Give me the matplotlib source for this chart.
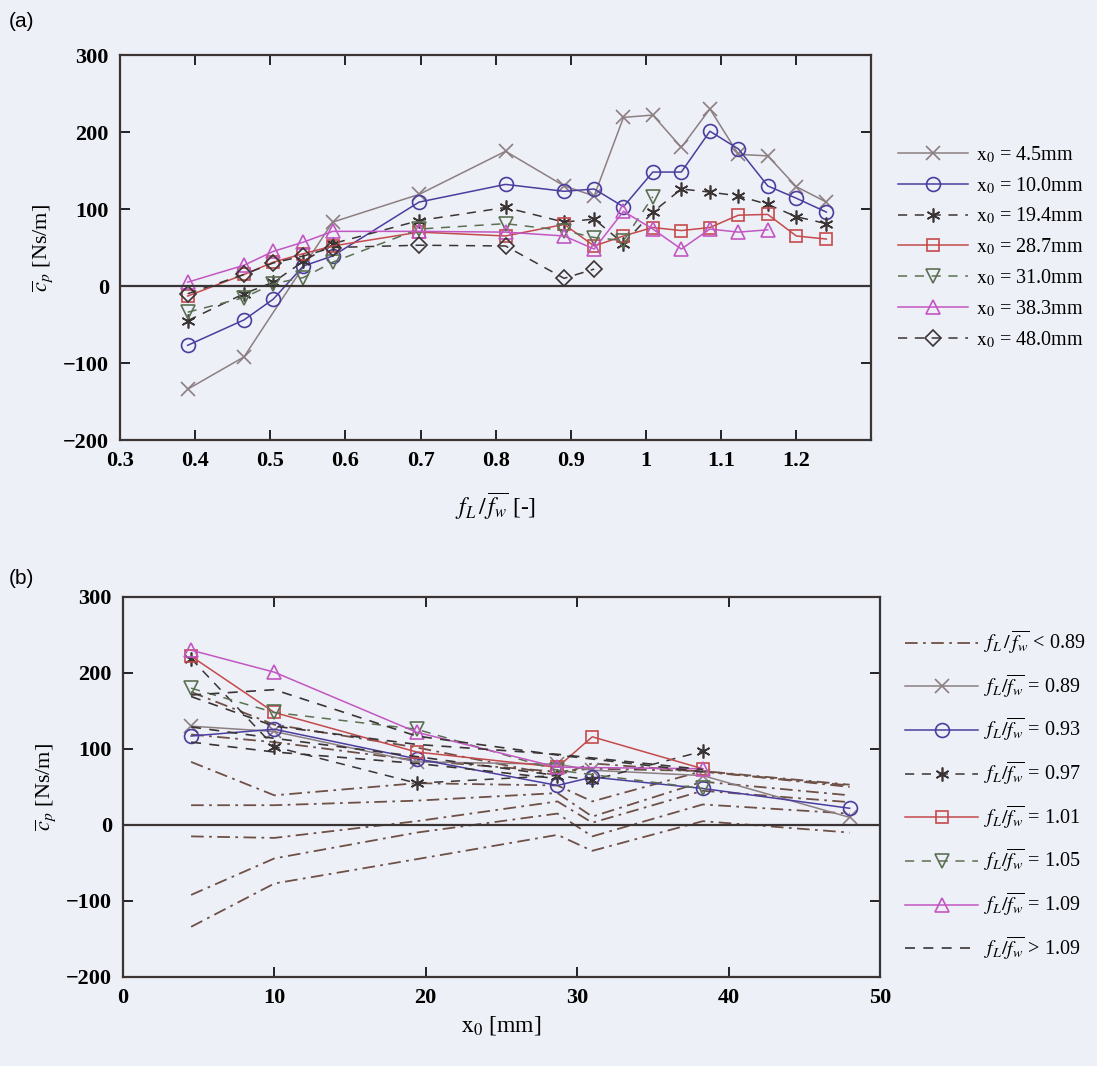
import matplotlib.pyplot as plt
import numpy as np

plt.rcParams['font.family'] = ['Liberation Serif', 'DejaVu Serif']
plt.rcParams['mathtext.fontset'] = 'stix'

# normalised frequency f_L / f_w (same grid for every amplitude)
freqs = [0.39, 0.465, 0.504, 0.544, 0.583, 0.698, 0.813, 0.891, 0.931,
         0.970, 1.009, 1.047, 1.085, 1.123, 1.162, 1.200, 1.240]

# lateral displacement amplitudes [mm]
x0_vals = [4.5, 10.0, 19.4, 28.7, 31.0, 38.3, 48.0]

N = np.nan
# c_p [Ns/m] per amplitude (a)
cp_45 = [-134, -92, N, N, 83, 119, 175, 130, 117, 219, 222, 180, 230, 171, 169, 129, 109]
cp_100 = [-77, -44, -17, 26, 39, 109, 132, 123, 126, 103, 148, 148, 201, 178, 130, 114, 96]
cp_194 = [-45, -10, 5, 32, 55, 85, 102, 83, 87, 55, 96, 126, 122, 117, 106, 90, 81]
cp_287 = [-13, 15, 31, 42, 52, 70, 65, 80, 52, 65, 76, 72, 76, 92, 93, 65, 61]
cp_310 = [-34, -15, 3, 11, 31, 74, 81, 72, 63, 59, 116, N, N, N, N, N, N]
cp_383 = [5, 27, 45, 57, 71, 71, 70, 65, 48, 97, 74, 48, 74, 70, 73, N, N]
cp_480 = [-10, 15, 30, 39, 50, 53, 52, 10, 22, N, N, N, N, N, N, N, N]

# in plot (b) the 0.504 and 0.544 curves start at 4.5mm as well
cp_45_b = [-134, -92, -15, 26, 83, 119, 175, 130, 117, 219, 222, 180, 230, 171, 169, 129, 109]

cp_rows = [cp_45, cp_100, cp_194, cp_287, cp_310, cp_383, cp_480]
cp_rows_b = [cp_45_b, cp_100, cp_194, cp_287, cp_310, cp_383, cp_480]

gray = '#8c7f82'
blue = '#4b3d9e'
dark = '#3a3434'
red = '#c44a4c'
green = '#5b7052'
magenta = '#c256c2'
brown = '#6e5046'

dash = (0, (6, 5))
dashdot = (0, (7, 3, 1.5, 3))
star = (6, 2, 0)

top_styles = [
    dict(color=gray, marker='x', ls='-'),
    dict(color=blue, marker='o', ls='-'),
    dict(color=dark, marker=star, ls=dash),
    dict(color=red, marker='s', ls='-', ms=8),
    dict(color=green, marker='v', ls=dash),
    dict(color=magenta, marker='^', ls='-'),
    dict(color=dark, marker='D', ls=dash, ms=8),
]

bg = '#eef0f7'
fig = plt.figure(figsize=(10.97, 10.66), dpi=100, facecolor=bg)
ax1 = fig.add_axes([0.1094, 0.5872, 0.685, 0.3612])
ax2 = fig.add_axes([0.1121, 0.0835, 0.690, 0.3565])

# ---- (a) c_p vs frequency ----
for x0, row, st in zip(x0_vals, cp_rows, top_styles):
    f = np.array(freqs)
    v = np.array(row, dtype=float)
    ok = ~np.isnan(v)
    ax1.plot(f[ok], v[ok], color=st['color'], ls=st['ls'], marker=st['marker'],
             ms=st.get('ms', 10), mfc='none', mew=1.2, lw=1.1,
             label='$\\mathrm{x_0}$ = %.1fmm' % x0)

ax1.axhline(0, color=dark, lw=1.6)
ax1.set_xlim(0.3, 1.3)
ax1.set_ylim(-200, 300)
ax1.set_xticks(np.arange(0.3, 1.31, 0.1))
ax1.set_xticklabels(['0.3', '0.4', '0.5', '0.6', '0.7', '0.8', '0.9', '1', '1.1', '1.2', ''])
ax1.set_xlabel('$f_L\\,/\\,\\overline{f_w}$ [-]', fontsize=17, labelpad=14)
ax1.set_ylabel('$\\overline{c}_p$ [Ns/m]', fontsize=16)

# ---- (b) c_p vs amplitude ----
cp_b = np.array(cp_rows_b, dtype=float)
x0 = np.array(x0_vals)
named = {0.891: ('x', gray, '-', '= 0.89'),
         0.931: ('o', blue, '-', '= 0.93'),
         0.970: (star, dark, dash, '= 0.97'),
         1.009: ('s', red, '-', '= 1.01'),
         1.047: ('v', green, dash, '= 1.05'),
         1.085: ('^', magenta, '-', '= 1.09')}

low_lab = '$f_L\\,/\\,\\overline{f_w}$ < 0.89'
high_lab = '$f_L/\\overline{f_w}$ > 1.09'
low_done = False
high_done = False
for j, fr in enumerate(freqs):
    v = cp_b[:, j]
    ok = ~np.isnan(v)
    if fr in named:
        mk, c, ls, lab = named[fr]
        ax2.plot(x0[ok], v[ok], color=c, ls=ls, marker=mk, ms=8 if mk == 's' else 10,
                 mfc='none', mew=1.2, lw=1.1,
                 label='$f_L/\\overline{f_w}$ ' + lab)
    elif fr < 0.89:
        ax2.plot(x0[ok], v[ok], color=brown, ls=dashdot, lw=1.3,
                 label=None if low_done else low_lab)
        low_done = True
    else:
        ax2.plot(x0[ok], v[ok], color=dark, ls=dash, lw=1.2,
                 label=None if high_done else high_lab)
        high_done = True

ax2.axhline(0, color=dark, lw=1.6)
ax2.set_xlim(0, 50)
ax2.set_ylim(-200, 300)
ax2.set_xticks([0, 10, 20, 30, 40, 50])
ax2.set_xlabel('$\\mathrm{x_0}$ [mm]', fontsize=17)
ax2.set_ylabel('$\\overline{c}_p$ [Ns/m]', fontsize=16)

for ax in (ax1, ax2):
    ax.set_facecolor(bg)
    ax.set_yticks([-200, -100, 0, 100, 200, 300])
    ax.tick_params(direction='in', top=True, right=True, length=7, width=1.2,
                   labelsize=16, pad=8)
    for lbl in ax.get_xticklabels() + ax.get_yticklabels():
        lbl.set_fontweight('bold')
    for s in ax.spines.values():
        s.set_linewidth(1.6)
        s.set_color(dark)
    ax.yaxis.labelpad = 6

# legends
h1, l1 = ax1.get_legend_handles_labels()
fig.legend(h1, l1, loc='upper left', bbox_to_anchor=(0.811, 0.872),
           frameon=False, fontsize=14.5, handlelength=3.5, handletextpad=0.4,
           labelspacing=0.5, borderaxespad=0)

h2, l2 = ax2.get_legend_handles_labels()
order = [l2.index(s) for s in [low_lab] +
         ['$f_L/\\overline{f_w}$ ' + named[k][3] for k in sorted(named)] +
         [high_lab]]
fig.legend([h2[i] for i in order], [l2[i] for i in order], loc='upper left',
           bbox_to_anchor=(0.818, 0.418), frameon=False, fontsize=14.5,
           handlelength=3.6, handletextpad=0.3, labelspacing=0.8,
           borderaxespad=0)

fig.text(0.008, 0.975, '(a)', fontsize=15, family='Liberation Sans')
fig.text(0.008, 0.452, '(b)', fontsize=15, family='Liberation Sans')

fig.savefig('out.png', dpi=100, facecolor=bg)
